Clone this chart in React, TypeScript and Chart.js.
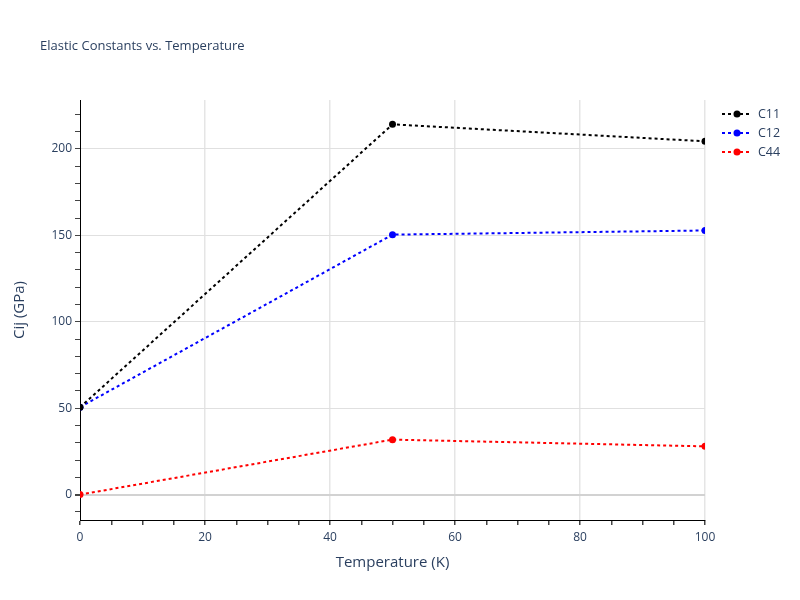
import React, { useEffect, useRef } from "react";
import { Chart, registerables } from "chart.js";

Chart.register(...registerables);

const temperatures = [0, 50, 100];
const c11Values = [50.5, 214.2, 204.4];
const c12Values = [50.6, 150.4, 152.8];
const c44Values = [0, 31.8, 27.9];
const seriesNames = ["C11", "C12", "C44"];
const seriesColors = ["#000000", "#0000ff", "#ff0000"];
const titleText = "Elastic Constants vs. Temperature";
const xTitle = "Temperature (K)";
const yTitle = "Cij (GPa)";

const FONT = '"Open Sans", Verdana, Arial, sans-serif';
const TEXT_COLOR = "#2a3f5f";

export default function App() {
  const canvasRef = useRef<HTMLCanvasElement | null>(null);

  useEffect(() => {
    document.body.style.margin = "0";
    const canvas = canvasRef.current;
    if (!canvas) return;
    const allValues = [c11Values, c12Values, c44Values];

    const overlay = {
      id: "overlay",
      afterDraw(chart: any) {
        const ctx = chart.ctx as CanvasRenderingContext2D;
        const area = chart.chartArea;
        ctx.save();
        ctx.fillStyle = TEXT_COLOR;
        ctx.textBaseline = "middle";
        // title
        ctx.font = `13px ${FONT}`;
        ctx.textAlign = "left";
        ctx.fillText(titleText, 40, 46);
        // x title
        ctx.font = `15px ${FONT}`;
        ctx.textAlign = "center";
        ctx.fillText(xTitle, (area.left + area.right) / 2, 563);
        // y title
        ctx.save();
        ctx.translate(20, (area.top + area.bottom) / 2);
        ctx.rotate(-Math.PI / 2);
        ctx.fillText(yTitle, 0, 0);
        ctx.restore();
        // legend
        ctx.font = `12.5px ${FONT}`;
        ctx.textAlign = "left";
        seriesNames.forEach((name, i) => {
          const y = 114 + i * 19;
          ctx.strokeStyle = seriesColors[i];
          ctx.lineWidth = 2;
          ctx.setLineDash([3, 3]);
          ctx.beginPath();
          ctx.moveTo(722, y);
          ctx.lineTo(752, y);
          ctx.stroke();
          ctx.setLineDash([]);
          ctx.fillStyle = seriesColors[i];
          ctx.beginPath();
          ctx.arc(737, y, 3.5, 0, Math.PI * 2);
          ctx.fill();
          ctx.fillStyle = TEXT_COLOR;
          ctx.fillText(name, 758, y);
        });
        ctx.restore();
      },
    };

    const chart = new Chart(canvas, {
      type: "line",
      data: {
        datasets: seriesNames.map((name, i) => ({
          label: name,
          data: temperatures.map((t, j) => ({ x: t, y: allValues[i][j] })),
          borderColor: seriesColors[i],
          backgroundColor: seriesColors[i],
          borderWidth: 2,
          borderDash: [3, 3],
          pointRadius: 3.5,
          pointBorderWidth: 0,
          pointBackgroundColor: seriesColors[i],
          fill: false,
          tension: 0,
        })),
      },
      options: {
        responsive: false,
        animation: false,
        devicePixelRatio: 1,
        layout: { padding: { left: 0, right: 95, top: 100, bottom: 0 } },
        plugins: {
          legend: { display: false },
          title: { display: false },
          tooltip: { enabled: false },
        },
        scales: {
          x: {
            type: "linear",
            min: 0,
            max: 100,
            afterFit(scale: any) {
              scale.height = 80;
            },
            border: { display: true, color: "#000000", width: 1 },
            grid: {
              color: (ctx: any) =>
                ctx.tick && ctx.tick.value % 20 === 0 && ctx.tick.value !== 0 ? "#e5e5e5" : "rgba(0,0,0,0)",
              lineWidth: 1.5,
              tickColor: "#444444",
              tickLength: 5,
              drawTicks: true,
            },
            ticks: {
              stepSize: 5,
              includeBounds: false,
              autoSkip: false,
              maxRotation: 0,
              padding: 5,
              color: TEXT_COLOR,
              font: { family: FONT, size: 12 },
              callback: (v: any) => (Number(v) % 20 === 0 ? String(v) : ""),
            },
          },
          y: {
            type: "linear",
            min: -14.7,
            max: 228.3,
            afterFit(scale: any) {
              scale.width = 80;
            },
            border: { display: true, color: "#000000", width: 1 },
            grid: {
              color: (ctx: any) => {
                if (!ctx.tick) return "rgba(0,0,0,0)";
                const v = ctx.tick.value;
                if (v === 0) return "#d2d2d2";
                return v % 50 === 0 ? "#e0e0e0" : "rgba(0,0,0,0)";
              },
              lineWidth: (ctx: any) => (ctx.tick && ctx.tick.value === 0 ? 2 : 1),
              tickColor: "#444444",
              tickLength: 5,
            },
            ticks: {
              stepSize: 10,
              includeBounds: false,
              autoSkip: false,
              padding: 3,
              color: TEXT_COLOR,
              font: { family: FONT, size: 12 },
              callback: (v: any) => (Number(v) % 50 === 0 ? String(v) : ""),
            },
          },
        },
      },
      plugins: [overlay],
    } as any);

    return () => chart.destroy();
  }, []);

  return (
    <div style={{ position: "absolute", left: 0, top: 0, width: 800, height: 600, background: "#fff" }}>
      <canvas ref={canvasRef} width={800} height={600} />
    </div>
  );
}
